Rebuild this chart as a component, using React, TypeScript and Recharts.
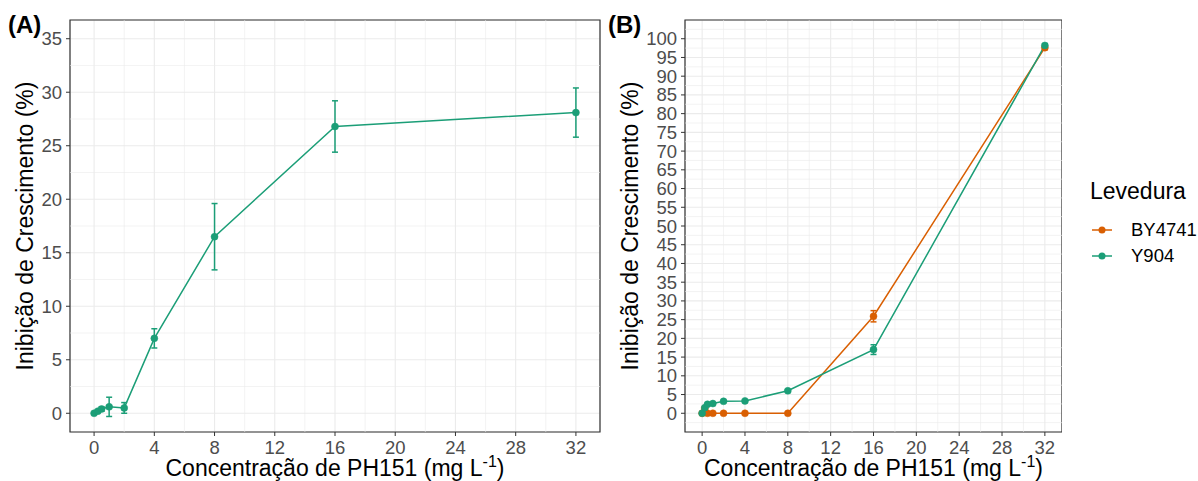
import React from "react";
import {
  LineChart,
  Line,
  XAxis,
  YAxis,
  CartesianGrid,
  ErrorBar,
  ReferenceLine,
  ReferenceArea,
  Label,
} from "recharts";

// Painel A - Y904
const concA = [0, 0.25, 0.5, 1, 2, 4, 8, 16, 32];
const inibA = [0, 0.2, 0.4, 0.6, 0.5, 7.0, 16.5, 26.8, 28.1];
const erroA = [0.05, 0.1, 0.2, 0.9, 0.5, 0.9, 3.1, 2.4, 2.3];

// Painel B - BY4741 x Y904
const concB = [0, 0.25, 0.5, 1, 2, 4, 8, 16, 32];
const inibBY4741 = [0, 1.3, 0, 0, 0, 0, 0, 25.9, 97.6];
const erroBY4741 = [0, 0.3, 0, 0, 0, 0, 0, 1.5, 0.5];
const inibY904 = [0, 1.5, 2.4, 2.6, 3.2, 3.3, 6.0, 17.0, 98.2];
const erroY904 = [0, 0.3, 0.2, 0.2, 0.2, 0.2, 0.3, 1.3, 0.5];

const xTicks = [0, 4, 8, 12, 16, 20, 24, 28, 32];
const xMinor = [2, 6, 10, 14, 18, 22, 26, 30];
const yTicksA = [0, 5, 10, 15, 20, 25, 30, 35];
const yMinorA = [2.5, 7.5, 12.5, 17.5, 22.5, 27.5, 32.5];
const yTicksB = [0, 5, 10, 15, 20, 25, 30, 35, 40, 45, 50, 55, 60, 65, 70, 75, 80, 85, 90, 95, 100];
const yMinorB = [-2.5, 2.5, 7.5, 12.5, 17.5, 22.5, 27.5, 32.5, 37.5, 42.5, 47.5, 52.5, 57.5, 62.5, 67.5, 72.5, 77.5, 82.5, 87.5, 92.5, 97.5, 102.5];

const legendItems = ["BY4741", "Y904"];

const GREEN = "#1B9E77";
const ORANGE = "#D95F02";
const GRID = "#EBEBEB";
const DARK = "#333333";
const FONT = "'Liberation Sans', Arial, Helvetica, sans-serif";

const xDomain: [number, number] = [-1.6, 33.6];
const yDomainA: [number, number] = [-1.75, 36.75];
const yDomainB: [number, number] = [-5, 105];

const dataA = concA.map((x, i) => ({ x, y: inibA[i], err: erroA[i] }));
const dataB = concB.map((x, i) => ({
  x,
  by: inibBY4741[i],
  byErr: erroBY4741[i],
  y904: inibY904[i],
  y904Err: erroY904[i],
}));

const tickStyle = { fill: "#4D4D4D", fontSize: 18.5, fontFamily: FONT };

function YTitle({ viewBox, cx }: any) {
  const cy = viewBox ? viewBox.y + viewBox.height / 2 : 226;
  return (
    <text
      x={cx}
      y={cy}
      transform={`rotate(-90 ${cx} ${cy})`}
      textAnchor="middle"
      dominantBaseline="central"
      fontSize={23}
      fontFamily={FONT}
      fill="#000"
    >
      Inibição de Crescimento (%)
    </text>
  );
}

function XTitle({ viewBox }: any) {
  const cx = viewBox ? viewBox.x + viewBox.width / 2 : 300;
  const y = viewBox ? viewBox.y + 44 : 476;
  return (
    <text x={cx} y={y} textAnchor="middle" fontSize={23} fontFamily={FONT} fill="#000">
      Concentração de PH151 (mg L
      <tspan dy={-9} fontSize={16}>-1</tspan>
      <tspan dy={9}>)</tspan>
    </text>
  );
}

function minorLines(xs: number[], ys: number[]) {
  return [
    ...xs.map((v) => (
      <ReferenceLine key={"mx" + v} x={v} stroke={GRID} strokeWidth={0.6} ifOverflow="hidden" />
    )),
    ...ys.map((v) => (
      <ReferenceLine key={"my" + v} y={v} stroke={GRID} strokeWidth={0.6} ifOverflow="hidden" />
    )),
  ];
}

const tagStyle: React.CSSProperties = {
  position: "absolute",
  fontFamily: FONT,
  fontWeight: "bold",
  fontSize: 24,
  color: "#000",
  lineHeight: 1,
};

export default function App() {
  return (
    <div
      style={{
        position: "absolute",
        left: 0,
        top: 0,
        width: 1198,
        height: 481,
        background: "#fff",
        overflow: "hidden",
      }}
    >
      <div style={{ position: "absolute", left: 0, top: 0 }}>
        <LineChart width={610} height={481} data={dataA} margin={{ top: 20, right: 10, bottom: 0, left: 0 }}>
          <CartesianGrid stroke={GRID} strokeWidth={1.1} />
          {minorLines(xMinor, yMinorA)}
          <XAxis
            type="number"
            dataKey="x"
            domain={xDomain}
            ticks={xTicks}
            allowDataOverflow
            height={49}
            axisLine={false}
            tickSize={4}
            tickMargin={5}
            tickLine={{ stroke: DARK }}
            tick={tickStyle}
            interval={0}
          >
            <Label content={(p: any) => <XTitle viewBox={p.viewBox} />} />
          </XAxis>
          <YAxis
            type="number"
            domain={yDomainA}
            ticks={yTicksA}
            allowDataOverflow
            width={70}
            axisLine={false}
            tickSize={4}
            tickMargin={4}
            tickLine={{ stroke: DARK }}
            tick={tickStyle}
            interval={0}
          >
            <Label content={(p: any) => <YTitle viewBox={p.viewBox} cx={25} />} />
          </YAxis>
          <ReferenceArea
            x1={xDomain[0]}
            x2={xDomain[1]}
            y1={yDomainA[0]}
            y2={yDomainA[1]}
            fill="none"
            stroke={DARK}
            strokeWidth={1.2}
            ifOverflow="visible"
          />
          <Line
            type="linear"
            dataKey="y"
            stroke={GREEN}
            strokeWidth={1.5}
            dot={{ r: 3.5, fill: GREEN, stroke: GREEN, strokeWidth: 0.5 }}
            isAnimationActive={false}
          >
            <ErrorBar dataKey="err" direction="y" width={3} stroke={GREEN} strokeWidth={1.5} />
          </Line>
        </LineChart>
      </div>

      <div style={{ position: "absolute", left: 610, top: 0 }}>
        <LineChart width={452} height={481} data={dataB} margin={{ top: 20, right: 0, bottom: 0, left: 0 }}>
          <CartesianGrid stroke={GRID} strokeWidth={1.1} />
          {minorLines(xMinor, yMinorB)}
          <XAxis
            type="number"
            dataKey="x"
            domain={xDomain}
            ticks={xTicks}
            allowDataOverflow
            height={49}
            axisLine={false}
            tickSize={4}
            tickMargin={5}
            tickLine={{ stroke: DARK }}
            tick={tickStyle}
            interval={0}
          >
            <Label content={(p: any) => <XTitle viewBox={p.viewBox} />} />
          </XAxis>
          <YAxis
            type="number"
            domain={yDomainB}
            ticks={yTicksB}
            allowDataOverflow
            width={75}
            axisLine={false}
            tickSize={4}
            tickMargin={4}
            tickLine={{ stroke: DARK }}
            tick={tickStyle}
            interval={0}
          >
            <Label content={(p: any) => <YTitle viewBox={p.viewBox} cx={20} />} />
          </YAxis>
          <ReferenceArea
            x1={xDomain[0]}
            x2={xDomain[1]}
            y1={yDomainB[0]}
            y2={yDomainB[1]}
            fill="none"
            stroke={DARK}
            strokeWidth={1.2}
            ifOverflow="visible"
          />
          <Line
            type="linear"
            dataKey="by"
            stroke={ORANGE}
            strokeWidth={1.5}
            dot={{ r: 3.5, fill: ORANGE, stroke: ORANGE, strokeWidth: 0.5 }}
            isAnimationActive={false}
          >
            <ErrorBar dataKey="byErr" direction="y" width={3} stroke={ORANGE} strokeWidth={1.5} />
          </Line>
          <Line
            type="linear"
            dataKey="y904"
            stroke={GREEN}
            strokeWidth={1.5}
            dot={{ r: 3.5, fill: GREEN, stroke: GREEN, strokeWidth: 0.5 }}
            isAnimationActive={false}
          >
            <ErrorBar dataKey="y904Err" direction="y" width={3} stroke={GREEN} strokeWidth={1.5} />
          </Line>
        </LineChart>
      </div>

      <div style={{ ...tagStyle, left: 8, top: 13 }}>(A)</div>
      <div style={{ ...tagStyle, left: 608, top: 13 }}>(B)</div>

      <div style={{ position: "absolute", left: 1090, top: 179, fontFamily: FONT }}>
        <div style={{ fontSize: 23, color: "#000", lineHeight: "24px" }}>Levedura</div>
        {legendItems.map((name, i) => (
          <div
            key={name}
            style={{ display: "flex", alignItems: "center", height: 26, marginTop: i === 0 ? 14 : 0 }}
          >
            <svg width={24} height={26} style={{ marginLeft: 1 }}>
              <line x1={1} x2={21} y1={13} y2={13} stroke={i === 0 ? ORANGE : GREEN} strokeWidth={1.5} />
              <circle cx={11} cy={13} r={3.5} fill={i === 0 ? ORANGE : GREEN} />
            </svg>
            <span style={{ fontSize: 18.5, color: "#000", marginLeft: 16 }}>{name}</span>
          </div>
        ))}
      </div>
    </div>
  );
}
